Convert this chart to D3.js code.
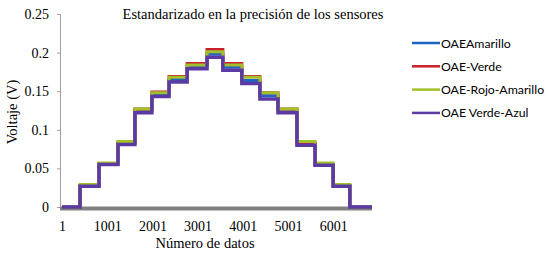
<!DOCTYPE html>
<html>
<head>
<meta charset="utf-8">
<script src="https://cdn.jsdelivr.net/npm/d3@7"></script>
<style>
  body { margin: 0; background: #fff; }
  svg { display: block; }
</style>
</head>
<body>
<div id="chart"></div>
<script>
const w = 548;
const h = 259;

// index where each level starts (last entry = end of the record)
const stepStarts = [1, 400, 820, 1240, 1615, 1990, 2370, 2770, 3210, 3560, 3980, 4380, 4780, 5200, 5600, 6000, 6370, 6860];

const seriesNames = ["OAEAmarillo", "OAE-Verde", "OAE-Rojo-Amarillo", "OAE Verde-Azul"];
const seriesColors = ["#1f63c6", "#c8202c", "#a2c02a", "#5b3ba3"];

const amarillo    = [0, 0.028, 0.056, 0.083, 0.125, 0.146, 0.165, 0.182, 0.198, 0.181, 0.164, 0.144, 0.125, 0.082, 0.055, 0.028, 0];
const verde       = [0, 0.028, 0.056, 0.084, 0.127, 0.149, 0.169, 0.186, 0.204, 0.186, 0.169, 0.148, 0.127, 0.083, 0.055, 0.028, 0];
const rojoAmarillo = [0, 0.029, 0.057, 0.085, 0.127, 0.148, 0.168, 0.184, 0.201, 0.184, 0.168, 0.148, 0.127, 0.085, 0.057, 0.029, 0];
const verdeAzul   = [0, 0.027, 0.055, 0.081, 0.122, 0.143, 0.162, 0.179, 0.194, 0.177, 0.160, 0.140, 0.122, 0.080, 0.054, 0.027, 0];

const seriesValues = [amarillo, verde, rojoAmarillo, verdeAzul];

const yTicks = [0, 0.05, 0.1, 0.15, 0.2, 0.25];
const yTickLabels = ["0", "0.05", "0.1", "0.15", "0.2", "0.25"];
const xTicks = [1, 1001, 2001, 3001, 4001, 5001, 6001];

const svg = d3.select("#chart")
    .append("svg")
    .attr("width", w)
    .attr("height", h);

const x = d3.scaleLinear().domain([-43, 6860]).range([60, 372]);
const y = d3.scaleLinear().domain([0, 0.25]).range([207, 14]);

// title
svg.append("text")
    .attr("x", 253)
    .attr("y", 19)
    .attr("text-anchor", "middle")
    .style("font-family", "Liberation Serif, serif")
    .style("font-size", "14.5px")
    .text("Estandarizado en la precisión de los sensores");

// y axis
const yAxis = d3.axisLeft(y)
    .tickValues(yTicks)
    .tickFormat(function(d, i) { return yTickLabels[i]; })
    .tickSize(3)
    .tickPadding(8);

const gy = svg.append("g")
    .attr("transform", "translate(60,0)")
    .call(yAxis);
gy.select(".domain").attr("stroke", "#a0a0a0");
gy.selectAll(".tick line").attr("stroke", "#a0a0a0");
gy.selectAll("text")
    .style("font-family", "Liberation Serif, serif")
    .style("font-size", "14px")
    .attr("fill", "#000");

// x axis: thick grey baseline
svg.append("line")
    .attr("x1", x(-43))
    .attr("x2", x(6860))
    .attr("y1", y(0) + 1.5)
    .attr("y2", y(0) + 1.5)
    .attr("stroke", "#808080")
    .attr("stroke-width", 4);

const xAxis = d3.axisBottom(x)
    .tickValues(xTicks)
    .tickFormat(d3.format("d"))
    .tickSize(0)
    .tickPadding(14);

const gx = svg.append("g")
    .attr("transform", "translate(0," + y(0) + ")")
    .call(xAxis);
gx.select(".domain").remove();
gx.selectAll("text")
    .style("font-family", "Liberation Serif, serif")
    .style("font-size", "14px")
    .attr("fill", "#000");

// axis titles
svg.append("text")
    .attr("x", 205)
    .attr("y", 248)
    .attr("text-anchor", "middle")
    .style("font-family", "Liberation Serif, serif")
    .style("font-size", "14.5px")
    .text("Número de datos");

svg.append("text")
    .attr("transform", "translate(17,112) rotate(-90)")
    .attr("text-anchor", "middle")
    .style("font-family", "Liberation Serif, serif")
    .style("font-size", "14.5px")
    .text("Voltaje (V)");

// series as step lines
const line = d3.line()
    .x(function(d) { return x(d.i); })
    .y(function(d) { return y(d.v); })
    .curve(d3.curveStepAfter);

for (let s = 0; s < seriesValues.length; s++) {
    const vals = seriesValues[s];
    const pts = [];
    for (let k = 0; k < vals.length; k++) {
        pts.push({ i: stepStarts[k], v: vals[k] });
    }
    pts.push({ i: stepStarts[stepStarts.length - 1], v: vals[vals.length - 1] });

    svg.append("path")
        .datum(pts)
        .attr("fill", "none")
        .attr("stroke", seriesColors[s])
        .attr("stroke-width", s === 3 ? 3.5 : 3)
        .attr("d", line);
}

// legend
const legend = svg.selectAll("g.legend")
    .data(seriesNames)
    .enter()
    .append("g")
    .attr("class", "legend")
    .attr("transform", function(d, i) { return "translate(412," + (43 + i * 23.3) + ")"; });

legend.append("line")
    .attr("x1", 0)
    .attr("x2", 28)
    .attr("stroke", function(d, i) { return seriesColors[i]; })
    .attr("stroke-width", 2.5);

legend.append("text")
    .attr("x", 29)
    .attr("y", 4.5)
    .style("font-family", "Lato, sans-serif")
    .style("font-size", "12.3px")
    .attr("fill", "#000")
    .text(function(d) { return d; });
</script>
</body>
</html>
